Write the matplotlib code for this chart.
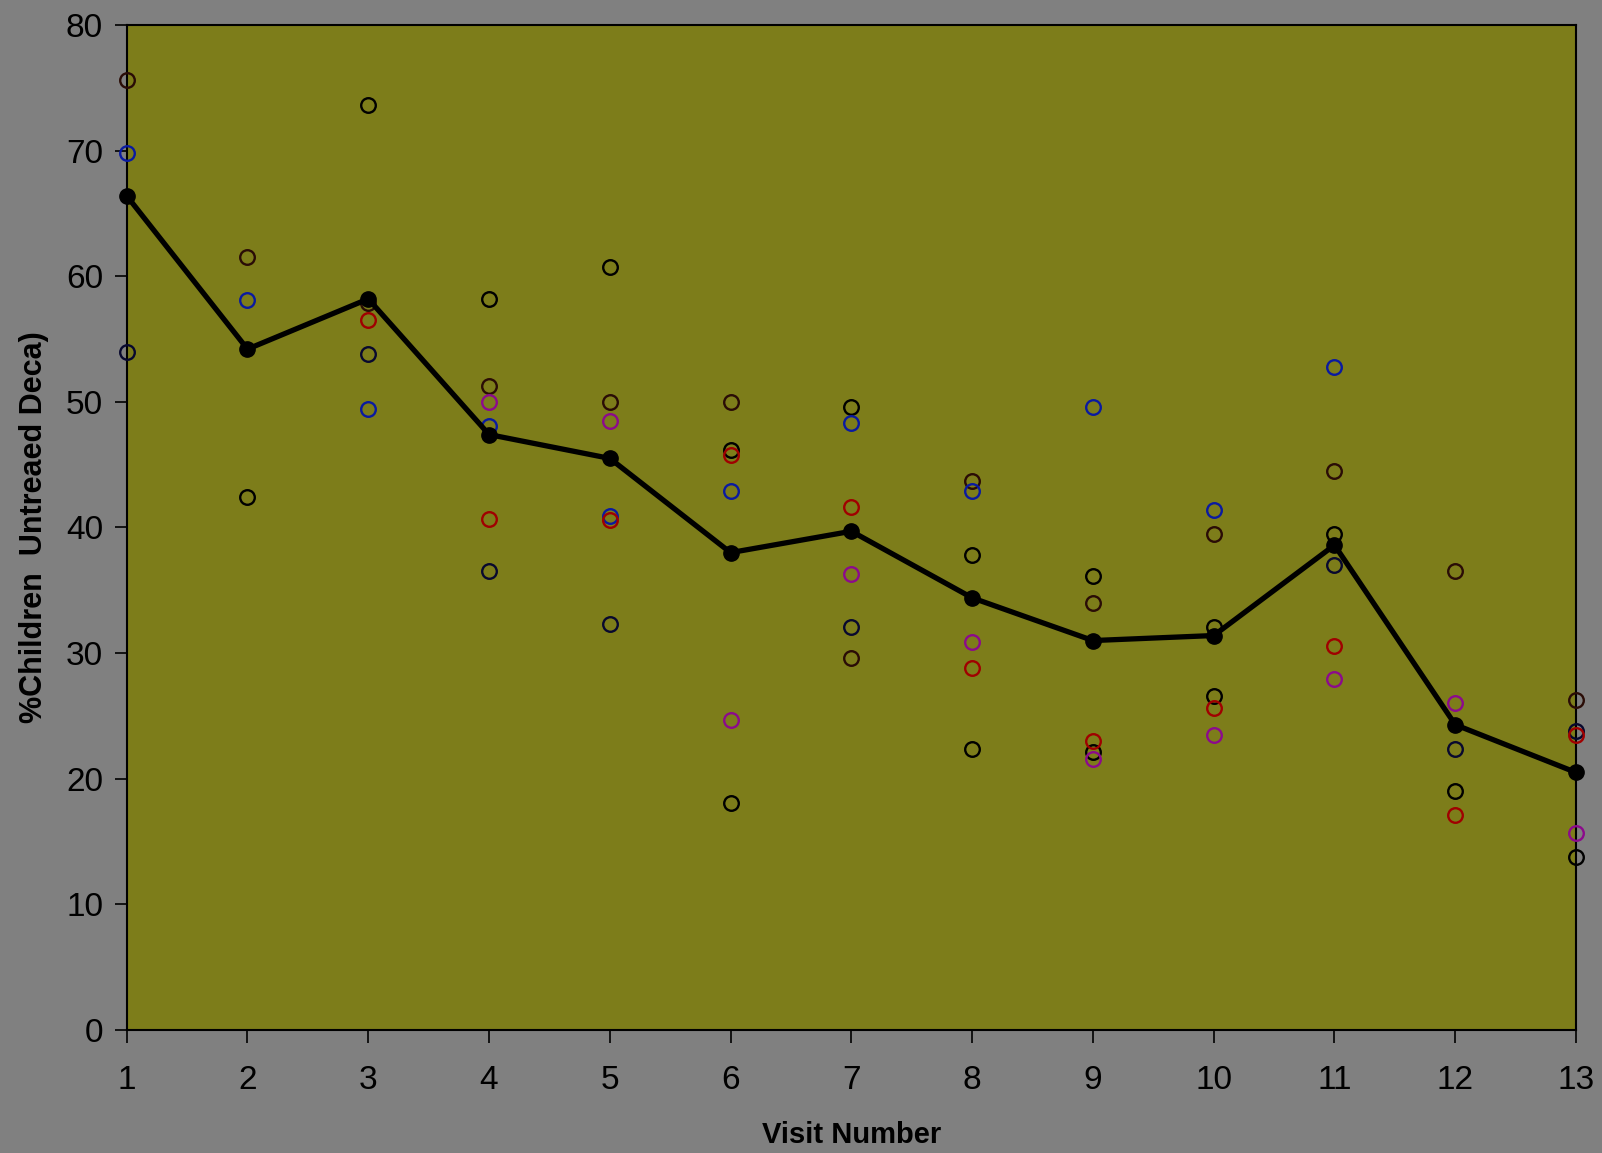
import numpy as np
import matplotlib.pyplot as plt

nan = np.nan

visits = np.arange(1, 14)

# per-visit values, one list per marker colour
blue = [69.8, 58.1, 49.4, 48.1, 40.9, 42.9, 48.3, 42.9, 49.6, 41.4, 52.8, nan, nan]
red = [nan, nan, 56.5, 40.7, 40.6, 45.8, 41.6, 28.8, 23.0, 25.6, 30.6, 17.1, 23.5]
magenta = [nan, nan, nan, 50.0, 48.5, 24.7, 36.3, 30.9, 21.6, 23.5, 27.9, 26.0, 15.7]
brown = [75.6, 61.5, 57.9, 51.3, 50.0, 50.0, 29.6, 43.7, 34.0, 39.5, 44.5, 36.5, 26.3]
navy = [54.0, nan, 53.8, 36.5, 32.3, nan, 32.1, nan, nan, nan, 37.0, 22.4, 23.8]
black_a = [nan, 42.4, 73.6, 58.2, 60.7, 46.2, 49.6, 37.8, 36.1, 32.1, 39.5, 19.0, 13.8]
black_b = [nan, nan, nan, nan, nan, 18.1, nan, 22.4, 22.1, 26.6, nan, nan, nan]

mean = [66.4, 54.2, 58.2, 47.4, 45.5, 38.0, 39.7, 34.4, 31.0, 31.4, 38.6, 24.3, 20.5]

series = [
    (brown, "#2a0c06"),
    (navy, "#08082e"),
    (black_a, "#000000"),
    (black_b, "#000000"),
    (blue, "#0a1aa0"),
    (red, "#a00000"),
    (magenta, "#8c0a8c"),
]

plt.rcParams["font.family"] = ["Liberation Sans", "DejaVu Sans"]

fig = plt.figure(figsize=(16.02, 11.53), dpi=100, facecolor="#808080")
ax = fig.add_axes([0.0791, 0.1067, 0.9047, 0.8716])
ax.set_facecolor("#7d7d1a")

for vals, col in series:
    ax.plot(visits, vals, linestyle="none", marker="o", markersize=10.5,
            markerfacecolor="none", markeredgecolor=col, markeredgewidth=1.7,
            clip_on=False, zorder=3)

ax.plot(visits, mean, color="black", linewidth=3.8, marker="o", markersize=11,
        markerfacecolor="black", markeredgecolor="black", clip_on=False, zorder=4)

ax.set_xlim(1, 13)
ax.set_ylim(0, 80)
ax.set_xticks(visits)
ax.set_yticks(np.arange(0, 81, 10))

for sp in ax.spines.values():
    sp.set_color("black")
    sp.set_linewidth(1.5)

ax.tick_params(axis="both", direction="out", length=9, width=1.2,
               colors="black", labelsize=24)
ax.tick_params(axis="x", pad=16)
ax.tick_params(axis="y", pad=8)

ax.set_xlabel("Visit Number", fontsize=21, fontweight="bold", labelpad=18)
ax.set_ylabel("%Children  Untreaed Deca)", fontsize=22, fontweight="bold",
              labelpad=12)

fig.savefig("out.png", dpi=100, facecolor=fig.get_facecolor())
